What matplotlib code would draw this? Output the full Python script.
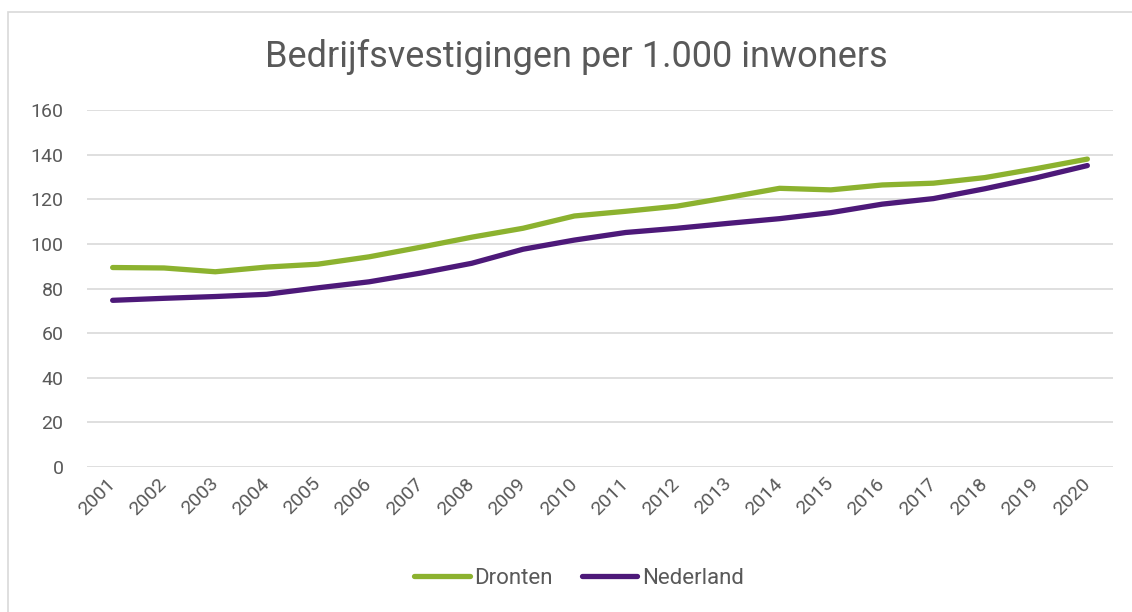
import matplotlib.pyplot as plt
from matplotlib.patches import Rectangle

plt.rcParams["font.family"] = ["Roboto", "DejaVu Sans"]

years = [str(y) for y in range(2001, 2021)]
dronten = [89.4, 89.2, 87.5, 89.6, 90.9, 94.2, 98.5, 103.0, 107.0, 112.5,
           114.6, 116.9, 120.8, 124.9, 124.2, 126.4, 127.2, 129.7, 133.7, 138.0]
nederland = [74.7, 75.6, 76.4, 77.4, 80.3, 83.0, 86.9, 91.3, 97.6, 101.7,
             105.1, 107.0, 109.2, 111.3, 114.0, 117.8, 120.3, 124.7, 129.6, 135.1]
yticks = [0, 20, 40, 60, 80, 100, 120, 140, 160]

textcol = "#595959"
W, H = 1132, 612
fig = plt.figure(figsize=(W / 100, H / 100), dpi=100)

# chart border
fig.patches.append(Rectangle((8 / W, -0.1), 1.2, (H - 12) / H + 0.1,
                             transform=fig.transFigure, fill=False,
                             edgecolor="#d9d9d9", linewidth=1.2))

ax = fig.add_axes([87 / W, 1 - 467 / H, (1113 - 87) / W, (467 - 110) / H])
x = range(len(years))
ax.plot(x, dronten, color="#8cb22f", lw=3.8, solid_capstyle="round",
        solid_joinstyle="round", label="Dronten")
ax.plot(x, nederland, color="#4d1979", lw=3.8, solid_capstyle="round",
        solid_joinstyle="round", label="Nederland")

ax.set_xlim(-0.5, len(years) - 0.5)
ax.set_ylim(0, 160)
ax.set_yticks(yticks)
ax.set_xticks(list(x))
ax.set_xticklabels(years, rotation=45, ha="right", va="center",
                   rotation_mode="anchor")
ax.grid(axis="y", color="#d9d9d9", lw=1.2)
ax.set_axisbelow(True)
for s in ax.spines.values():
    s.set_visible(False)
ax.tick_params(length=0, labelsize=14, colors=textcol)
ax.tick_params(axis="y", pad=17)
ax.tick_params(axis="x", pad=10)

fig.text(576 / W, 1 - 57 / H, "Bedrijfsvestigingen per 1.000 inwoners",
         ha="center", va="center", fontsize=26, color=textcol)

leg = fig.legend(loc="center", bbox_to_anchor=(579 / W, 1 - 578 / H), ncol=2,
                 frameon=False, fontsize=16, handlelength=2.5,
                 handletextpad=0.2, columnspacing=1.3)
for t in leg.get_texts():
    t.set_color(textcol)

fig.savefig("out.png", dpi=100)
